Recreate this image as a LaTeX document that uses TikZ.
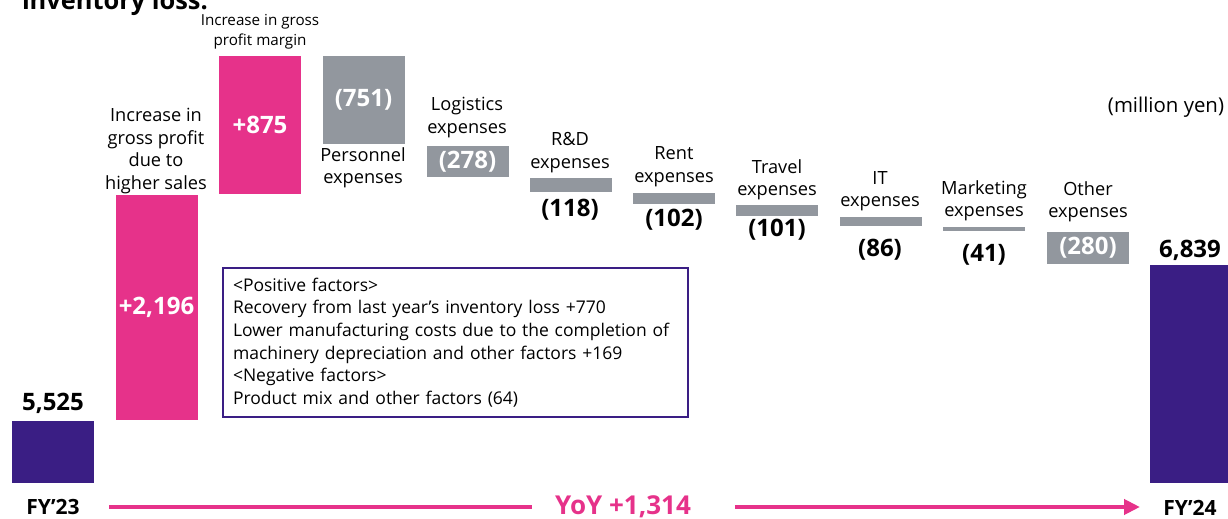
\documentclass[tikz,border=0pt]{standalone}
\usepackage{fontspec}
\setmainfont{Open Sans}
\usetikzlibrary{arrows.meta}
\definecolor{mypink}{RGB}{230,50,138}
\definecolor{mypurple}{RGB}{58,30,132}
\definecolor{mygray}{RGB}{146,151,158}
\begin{document}
\begin{tikzpicture}[x=0.5pt,y=-0.5pt,
	>={Triangle[length=8pt,width=7.5pt]},
	every node/.style={inner sep=0pt,outer sep=0pt},
	bar/.style={minimum width=41pt,text=white,font=\fontsize{12}{12}\selectfont\bfseries},
	pinkbar/.style={bar,fill=mypink},
	graybar/.style={bar,fill=mygray},
	purplebar/.style={bar,fill=mypurple},
	catlabel/.style={align=center,font=\fontsize{9.1}{11.2}\selectfont},
	vallabel/.style={font=\fontsize{12}{12}\selectfont\bfseries},
	yearlabel/.style={font=\fontsize{10.5}{12}\selectfont\bfseries}]

	\useasboundingbox (0,0) rectangle (1228,519);
	\node[anchor=base west,font=\fontsize{12.7}{13}\selectfont\bfseries] (title) at (22,10) {inventory loss.};

	% bars
	\node[purplebar,minimum height=31pt]   (fy23)  at (53,452)    {};
	\node[pinkbar,minimum height=112.5pt]  (inc2196) at (156.5,307.5) {+2,196};
	\node[pinkbar,minimum height=69pt]     (inc875)  at (260,125)   {+875};
	\node[graybar,minimum height=44pt]     (pers)  at (363.5,100)   {(751)};
	\node[graybar,minimum height=15.5pt]   (logi)  at (467.5,161.5) {(278)};
	\node[graybar,minimum height=7pt]      (rnd)   at (570.5,185)   {};
	\node[graybar,minimum height=5.5pt]    (rent)  at (674,198.5)   {};
	\node[graybar,minimum height=5.5pt]    (trav)  at (777,210.5)   {};
	\node[graybar,minimum height=4.5pt]    (itex)  at (880.5,221.5) {};
	\node[graybar,minimum height=2pt]      (mark)  at (984,229)     {};
	\node[graybar,minimum height=16pt]     (other) at (1088,248)    {(280)};
	\node[purplebar,minimum height=109pt]  (fy24)  at (1191,374)    {};

	% category labels
	\node[catlabel] (inc2196lbl) at (156,151) {Increase in\\gross profit\\due to\\higher sales};
	\node[catlabel,font=\fontsize{7.6}{10}\selectfont] (inc875lbl) at (260,32) {Increase in gross\\profit margin};
	\node[catlabel] (perslbl)  at (363,167.5) {Personnel\\expenses};
	\node[catlabel] (logilbl)  at (467,117.5) {Logistics\\expenses};
	\node[catlabel] (rndlbl)   at (570,152.5) {R\&D\\expenses};
	\node[catlabel] (rentlbl)  at (674,166.5) {Rent\\expenses};
	\node[catlabel] (travlbl)  at (777,180)   {Travel\\expenses};
	\node[catlabel] (itexlbl)  at (880,191)   {IT\\expenses};
	\node[catlabel] (marklbl)  at (984,200.5) {Marketing\\expenses};
	\node[catlabel] (otherlbl) at (1088,201.5) {Other\\expenses};
	\node[catlabel,font=\fontsize{10.2}{12}\selectfont] (unit) at (1166,107) {(million yen)};

	% values
	\node[vallabel] (fy23val) at (53,403)   {5,525};
	\node[vallabel] (rndval)  at (570,210)  {(118)};
	\node[vallabel] (rentval) at (674,220)  {(102)};
	\node[vallabel] (travval) at (777,230)  {(101)};
	\node[vallabel] (itexval) at (880,250)  {(86)};
	\node[vallabel] (markval) at (984,255)  {(41)};
	\node[vallabel] (fy24val) at (1190,250) {6,839};

	% factors box
	\node[draw=mypurple,line width=1pt,text width=222.5pt,inner xsep=5pt,inner ysep=4pt,
		minimum height=74.5pt,align=left,font=\fontsize{8.75}{11.3}\selectfont] (factors) at (455.5,342.5)
		{<Positive factors>\\
		Recovery from last year’s inventory loss +770\\
		Lower manufacturing costs due to the completion of\\
		machinery depreciation and other factors +169\\
		<Negative factors>\\
		Product mix and other factors (64)};

	% yoy arrow
	\node[yearlabel] (fy23lbl) at (53,507)   {FY’23};
	\node[yearlabel] (fy24lbl) at (1190,508) {FY’24};
	\node[font=\fontsize{13}{14}\selectfont\bfseries,text=mypink] (yoy) at (623,507) {YoY +1,314};
	\coordinate (arrstart) at (109,507);
	\coordinate (arrend) at (1140,507);
	\draw[mypink,line width=2pt,shorten >=11.5pt] (arrstart) -- (yoy.west);
	\draw[mypink,line width=2pt,->,shorten <=22pt] (yoy.east) -- (arrend);
\end{tikzpicture}
\end{document}
